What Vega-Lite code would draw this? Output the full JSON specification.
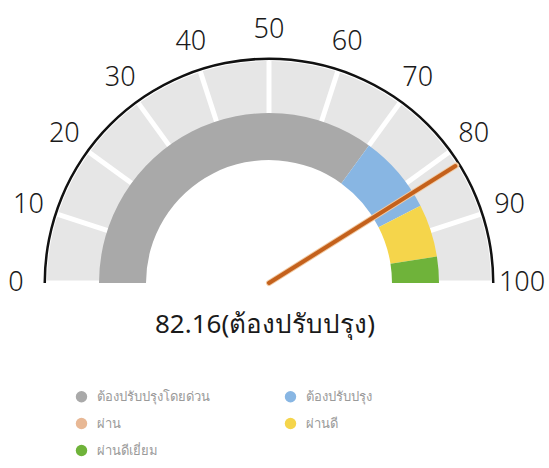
{
  "$schema": "https://vega.github.io/schema/vega-lite/v6.json",
  "autosize": {"type": "none"},
  "width": 538,
  "height": 370,
  "padding": {"left": 0, "top": 98, "right": 11, "bottom": 0},
  "background": "white",
  "config": {"view": {"stroke": null}, "font": "Noto Sans"},
  "layer": [
    {
      "data": {"values": [
        {"from": 0, "to": 10}, {"from": 10, "to": 20}, {"from": 20, "to": 30}, {"from": 30, "to": 40}, {"from": 40, "to": 50},
        {"from": 50, "to": 60}, {"from": 60, "to": 70}, {"from": 70, "to": 80}, {"from": 80, "to": 90}, {"from": 90, "to": 100}
      ]},
      "mark": {"type": "arc", "innerRadius": 168, "outerRadius": 222, "padAngle": 0.0179, "fill": "#e6e6e6"},
      "encoding": {
        "theta": {"field": "from", "type": "quantitative", "stack": null, "scale": {"domain": [0, 100], "range": [-1.5708, 1.5708]}},
        "theta2": {"field": "to"}
      }
    },
    {
      "data": {"values": [
        {"level": "ต้องปรับปรุงโดยด่วน", "from": 0, "to": 70},
        {"level": "ต้องปรับปรุง", "from": 70, "to": 85},
        {"level": "ผ่านดี", "from": 85, "to": 95},
        {"level": "ผ่านดีเยี่ยม", "from": 95, "to": 100}
      ]},
      "mark": {"type": "arc", "innerRadius": 123, "outerRadius": 170},
      "encoding": {
        "theta": {"field": "from", "type": "quantitative", "stack": null, "scale": {"domain": [0, 100], "range": [-1.5708, 1.5708]}},
        "theta2": {"field": "to"},
        "color": {
          "field": "level", "type": "nominal",
          "scale": {
            "domain": ["ต้องปรับปรุงโดยด่วน", "ต้องปรับปรุง", "ผ่าน", "ผ่านดี", "ผ่านดีเยี่ยม"],
            "range": ["#a9a9a9", "#88b6e3", "#e8b895", "#f5d54b", "#6fb33a"]
          },
          "legend": {
            "title": null, "orient": "none", "legendX": 75, "legendY": 292, "columns": 2, "direction": "horizontal",
            "symbolType": "circle", "symbolSize": 130, "symbolStrokeWidth": 0,
            "labelFontSize": 13, "labelFontWeight": 300, "labelColor": "#9a9a9a", "labelOffset": 9,
            "rowPadding": 13, "columnPadding": 74, "labelLimit": 300
          }
        }
      }
    },
    {
      "data": {"values": [{"from": 0, "to": 100}]},
      "mark": {"type": "arc", "innerRadius": 223, "outerRadius": 225.5, "fill": "#111111"},
      "encoding": {
        "theta": {"field": "from", "type": "quantitative", "stack": null, "scale": {"domain": [0, 100], "range": [-1.5708, 1.5708]}},
        "theta2": {"field": "to"}
      }
    },
    {
      "data": {"values": [{"value": 82.16}]},
      "layer": [
        {
          "mark": {"type": "arc", "innerRadius": 0, "outerRadius": 221, "filled": false, "stroke": "#f2cba4", "strokeWidth": 6, "strokeCap": "round", "strokeJoin": "round"},
          "encoding": {
            "theta": {"field": "value", "type": "quantitative", "stack": null, "scale": {"domain": [0, 100], "range": [-1.5708, 1.5708]}},
            "theta2": {"field": "value"}
          }
        },
        {
          "mark": {"type": "arc", "innerRadius": 0, "outerRadius": 220, "filled": false, "stroke": "#c4611c", "strokeWidth": 4, "strokeCap": "round", "strokeJoin": "round"},
          "encoding": {
            "theta": {"field": "value", "type": "quantitative", "stack": null, "scale": {"domain": [0, 100], "range": [-1.5708, 1.5708]}},
            "theta2": {"field": "value"}
          }
        }
      ]
    },
    {
      "data": {"values": [
        {"tick": 0}, {"tick": 10}, {"tick": 20}, {"tick": 30}, {"tick": 40}, {"tick": 50},
        {"tick": 60}, {"tick": 70}, {"tick": 80}, {"tick": 90}, {"tick": 100}
      ]},
      "mark": {"type": "text", "radius": 253, "fontSize": 27, "fontWeight": 300, "color": "#1a1a1a", "align": "center", "baseline": "middle"},
      "encoding": {
        "theta": {"field": "tick", "type": "quantitative", "stack": null, "scale": {"domain": [0, 100], "range": [-1.5708, 1.5708]}},
        "text": {"field": "tick", "type": "quantitative"}
      }
    },
    {
      "data": {"values": [{"label": "82.16(ต้องปรับปรุง)"}]},
      "mark": {"type": "text", "fontSize": 26, "fontWeight": 400, "color": "#1a1a1a", "align": "center", "baseline": "middle", "dy": 42, "dx": -4},
      "encoding": {
        "text": {"field": "label", "type": "nominal"}
      }
    }
  ]
}
